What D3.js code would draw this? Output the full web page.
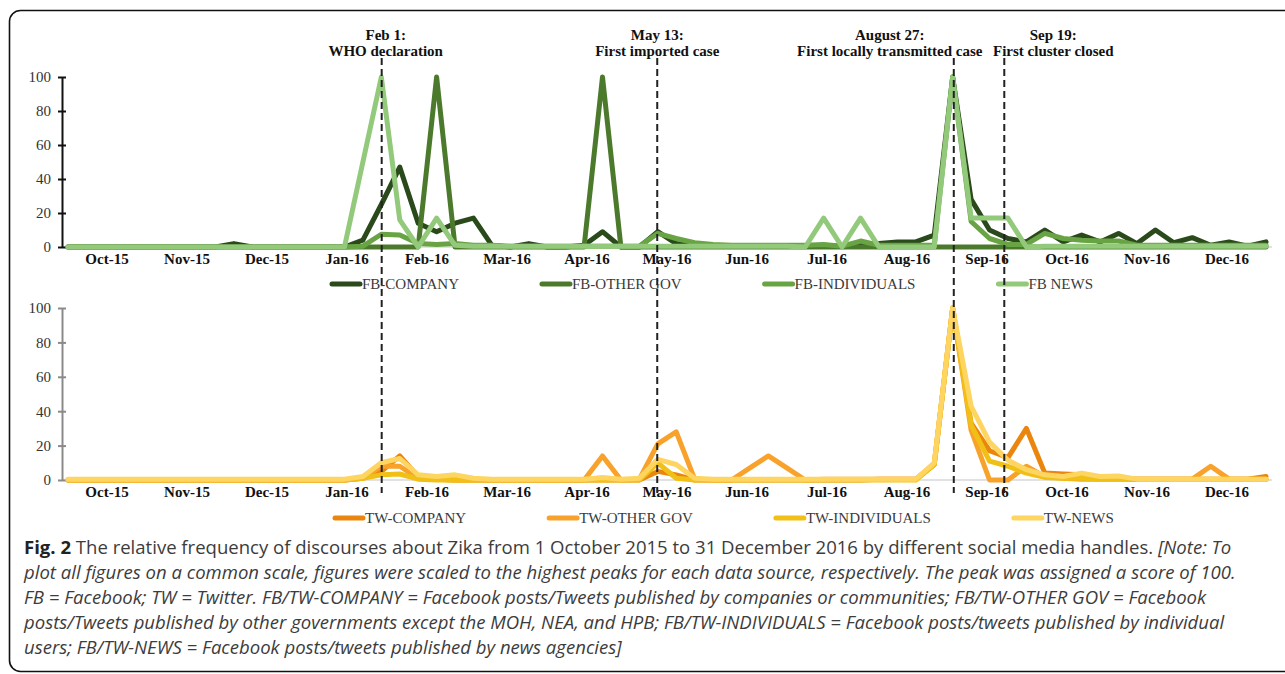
<!DOCTYPE html>
<html>
<head>
<meta charset="utf-8">
<script src="https://cdn.jsdelivr.net/npm/d3@7"></script>
<style>
  body { margin: 0; background: #fff; }
  svg { display: block; }
</style>
</head>
<body>
<svg id="chart" width="1285" height="674"></svg>
<script>
"use strict";

// month labels under each panel
const months = ["Oct-15", "Nov-15", "Dec-15", "Jan-16", "Feb-16", "Mar-16", "Apr-16", "May-16",
  "Jun-16", "Jul-16", "Aug-16", "Sep-16", "Oct-16", "Nov-16", "Dec-16"];
const yTicks = [0, 20, 40, 60, 80, 100];

// weekly values (66 weeks, Oct 2015 - Dec 2016), scaled to peak = 100
const fbCompany = [0, 0, 0, 0, 0, 0, 0, 0, 0, 2, 0,
  0, 0, 0, 0, 0, 4, 25, 47, 14, 9, 14,
  17, 1, 0, 2, 0, 0, 1, 9, 0, 0, 9,
  2, 0.5, 0.5, 0.5, 0.5, 0.5, 0.5, 0.5, 1, 0.5, 1.5,
  2, 3, 3, 7, 100, 28, 10, 5, 3, 10, 3,
  7, 3, 8, 2, 10, 2.5, 5.5, 1, 3, 0.5, 3];
const fbOtherGov = [0, 0, 0, 0, 0, 0, 0, 0, 0, 0, 0,
  0, 0, 0, 0, 0, 0, 0, 0, 0, 100, 0,
  0, 0, 0, 0, 0, 0, 0, 100, 0, 0, 0,
  0, 0, 0, 0, 0, 0, 0, 0, 0, 0, 0,
  0, 0, 0, 0, 0, 0, 0, 0, 0, 0, 0,
  0, 0, 0, 0, 0, 0, 0, 0, 0, 0, 0];
const fbIndividuals = [0, 0, 0, 0, 0, 0, 0, 0, 0, 0, 0,
  0, 0, 0, 0, 0, 0.5, 7.5, 7, 2, 1.5, 2,
  1, 1, 0.5, 0.5, 0.5, 0.5, 0.5, 0.5, 0.5, 0.5, 8,
  5, 2.5, 1.5, 1, 1, 1, 1, 1, 1.5, 0.5, 3.5,
  1, 1, 1, 1, 100, 15, 5, 1.5, 1.5, 8, 5,
  4, 3.5, 3.5, 1, 1, 1, 1, 1, 1, 1, 1];
const fbNews = [0, 0, 0, 0, 0, 0, 0, 0, 0, 0, 0,
  0, 0, 0, 0, 0, 50, 100, 16, 0, 17, 1,
  0.5, 0.5, 0.5, 0.5, 0.5, 0.5, 0.5, 0.5, 0.5, 0.5, 0.5,
  0.5, 0.5, 0.5, 0.5, 0.5, 0.5, 0.5, 0, 17, 0, 17,
  0, 0, 0, 0, 100, 17, 17, 17, 0, 0.5, 0.5,
  0.5, 0.5, 0.5, 0.5, 0.5, 0.5, 0.5, 0.5, 0.5, 0.5, 0.5];

const twCompany = [0, 0, 0, 0, 0, 0, 0, 0, 0, 0, 0,
  0, 0, 0, 0, 0, 1, 5, 14, 2, 0.5, 0,
  0, 0, 0, 0, 0, 0, 0, 0, 0, 0, 5,
  3, 0, 0, 0, 0, 0, 0, 0, 0, 0, 0,
  0.5, 0.5, 0.5, 9, 100, 33, 17, 13, 30, 4, 3.5,
  3, 1, 1, 0.5, 0.5, 0.5, 0.5, 0.5, 0.5, 0.5, 2];
const twOtherGov = [0, 0, 0, 0, 0, 0, 0, 0, 0, 0, 0,
  0, 0, 0, 0, 0, 1, 8, 8, 1, 0.5, 0,
  0, 0, 0, 0, 0, 0, 0, 14, 0, 0.5, 21,
  28, 0.5, 0, 0, 7, 14, 7, 0, 0.5, 0.5, 0.5,
  0.5, 0.5, 0.5, 9, 100, 29, 0, 0, 8, 2, 1,
  0.5, 0.5, 0.5, 0.5, 0.5, 0.5, 0.5, 8, 0.5, 0.5, 0.5];
const twIndividuals = [0, 0, 0, 0, 0, 0, 0, 0, 0, 0, 0,
  0, 0, 0, 0, 0, 1, 3, 3.5, 0.5, 0, 0,
  0, 0, 0, 0, 0, 0, 0, 0, 0, 0, 10,
  1, 0, 0, 0, 0, 0, 0, 0, 0, 0, 0,
  0, 0, 0, 9, 100, 32, 11, 8, 4, 1.5, 1,
  1, 0.5, 0.5, 0.5, 0.5, 0.5, 0.5, 0.5, 0.5, 0.5, 0.5];
const twNews = [0.5, 0.5, 0.5, 0.5, 0.5, 0.5, 0.5, 0.5, 0.5, 0.5, 0.5,
  0.5, 0.5, 0.5, 0.5, 0.5, 2, 10, 12.5, 3, 2, 3,
  1, 0.5, 0.5, 0.5, 0.5, 0.5, 0.5, 1.5, 0.5, 1, 12,
  9, 1, 0.5, 0.5, 0.5, 0.5, 0.5, 0.5, 0.5, 0.5, 0.5,
  0.5, 0.5, 0.5, 10, 100, 43, 22, 11.5, 6, 3, 2,
  4, 2, 2.3, 0.5, 0.5, 0.5, 0.5, 0.5, 0.5, 0.5, 0.5];

const fbNames = ["FB-COMPANY", "FB-OTHER GOV", "FB-INDIVIDUALS", "FB NEWS"];
const twNames = ["TW-COMPANY", "TW-OTHER GOV", "TW-INDIVIDUALS", "TW-NEWS"];

// event markers (position read as week index) and their labels
const eventWeeks = [17.02, 31.97, 48.06, 50.8];
const eventDates = ["Feb 1:", "May 13:", "August 27:", "Sep 19:"];
const eventTexts = ["WHO declaration", "First imported case", "First locally transmitted case", "First cluster closed"];

const captionLines = [
  [["b", "Fig. 2"], ["n", " The relative frequency of discourses about Zika from 1 October 2015 to 31 December 2016 by different social media handles. "], ["i", "[Note: To"]],
  [["i", "plot all figures on a common scale, figures were scaled to the highest peaks for each data source, respectively. The peak was assigned a score of 100."]],
  [["i", "FB = Facebook; TW = Twitter. FB/TW-COMPANY = Facebook posts/Tweets published by companies or communities; FB/TW-OTHER GOV = Facebook"]],
  [["i", "posts/Tweets published by other governments except the MOH, NEA, and HPB; FB/TW-INDIVIDUALS = Facebook posts/tweets published by individual"]],
  [["i", "users; FB/TW-NEWS = Facebook posts/tweets published by news agencies]"]]
];

const fbColors = ["#2a4a1b", "#4c7a2c", "#68a444", "#93c97a"];
const twColors = ["#ea860e", "#f8a22c", "#f1c016", "#fdd560"];

const svg = d3.select("#chart");
const serif = "'Liberation Serif', 'Times New Roman', serif";

// frame
svg.append("rect")
  .attr("x", 9.5).attr("y", 10.5)
  .attr("width", 1300).attr("height", 661)
  .attr("rx", 11)
  .attr("fill", "none")
  .attr("stroke", "#111")
  .attr("stroke-width", 1.6);

const nWeeks = fbCompany.length;
const xScale = d3.scaleLinear().domain([0, nWeeks - 1]).range([68, 1266]);
const monthScale = d3.scaleBand().domain(months).range([67, 1267]);

function drawPanel(top, bottom, seriesData, names, colors, axisColor, legendX, legendY) {
  const yScale = d3.scaleLinear().domain([0, 100]).range([bottom, top]);
  const g = svg.append("g");

  // baseline
  g.append("line")
    .attr("x1", 62).attr("x2", 1272)
    .attr("y1", bottom).attr("y2", bottom)
    .attr("stroke", "#d9d9d9").attr("stroke-width", 1.5);

  // y axis with crossing ticks
  const yAxis = d3.axisLeft(yScale).tickValues(yTicks).tickSize(4).tickSizeOuter(0).tickPadding(7);
  const yG = g.append("g").attr("transform", "translate(62,0)").call(yAxis);
  yG.select(".domain").attr("stroke", axisColor).attr("stroke-width", 2);
  yG.selectAll(".tick line").attr("x1", 4).attr("x2", -4).attr("stroke", axisColor).attr("stroke-width", 2);
  yG.selectAll(".tick text")
    .style("font-family", serif).style("font-size", "15px").attr("fill", "#333");

  // month labels
  const xAxis = d3.axisBottom(monthScale).tickSize(0).tickPadding(6);
  const xG = g.append("g").attr("transform", `translate(0,${bottom})`).call(xAxis);
  xG.select(".domain").remove();
  xG.selectAll(".tick text")
    .style("font-family", serif).style("font-size", "15px").style("font-weight", "bold").attr("fill", "#111");

  // series lines
  const line = d3.line()
    .x((d, i) => xScale(i))
    .y(d => yScale(d));
  seriesData.forEach((values, k) => {
    g.append("path")
      .attr("d", line(values))
      .attr("fill", "none")
      .attr("stroke", colors[k])
      .attr("stroke-width", 5)
      .attr("stroke-linejoin", "round")
      .attr("stroke-linecap", "round");
  });

  // legend
  let lx = legendX;
  names.forEach((name, k) => {
    g.append("line")
      .attr("x1", lx + 2).attr("x2", lx + 30)
      .attr("y1", legendY).attr("y2", legendY)
      .attr("stroke", colors[k]).attr("stroke-width", 5).attr("stroke-linecap", "round");
    const t = g.append("text")
      .attr("x", lx + 32).attr("y", legendY + 5)
      .style("font-family", serif).style("font-size", "15px").attr("fill", "#3a3a3a")
      .text(name);
    lx += 32 + t.node().getComputedTextLength() + 81;
  });
}

drawPanel(77, 247, [fbCompany, fbOtherGov, fbIndividuals, fbNews], fbNames, fbColors, "#111", 330, 284);
drawPanel(308, 480, [twCompany, twOtherGov, twIndividuals, twNews], twNames, twColors, "#8a8a8a", 333, 518);

// event lines and labels
const labelShift = [4, 0, -64, 49];
eventWeeks.forEach((w, k) => {
  const x = xScale(w);
  svg.append("line")
    .attr("x1", x).attr("x2", x)
    .attr("y1", 58).attr("y2", 493)
    .attr("stroke", "#222").attr("stroke-width", 2)
    .attr("stroke-dasharray", "7,4");
  const t = svg.append("text")
    .attr("text-anchor", "middle")
    .style("font-family", serif).style("font-size", "15px").style("font-weight", "bold")
    .attr("fill", "#111");
  t.append("tspan").attr("x", x + labelShift[k]).attr("y", 40).text(eventDates[k]);
  t.append("tspan").attr("x", x + labelShift[k]).attr("y", 56).text(eventTexts[k]);
});

// caption
const capFont = "'Open Sans', 'Noto Sans', sans-serif";
const capNodes = captionLines.map((segs, li) => {
  const t = svg.append("text")
    .attr("x", 0).attr("y", 0)
    .attr("transform", `translate(24,${554 + li * 25})`)
    .style("font-family", capFont).style("font-size", "18px").attr("fill", "#3c3c3c");
  segs.forEach(([style, str]) => {
    const s = t.append("tspan").text(str);
    if (style === "b") s.style("font-weight", "bold").attr("fill", "#222");
    if (style === "i") s.style("font-style", "italic");
  });
  return t;
});
const capScale = 1208 / capNodes[0].node().getComputedTextLength();
capNodes.forEach((t, li) => {
  t.attr("transform", `translate(24,${554 + li * 25}) scale(${capScale},1)`);
});
</script>
</body>
</html>
